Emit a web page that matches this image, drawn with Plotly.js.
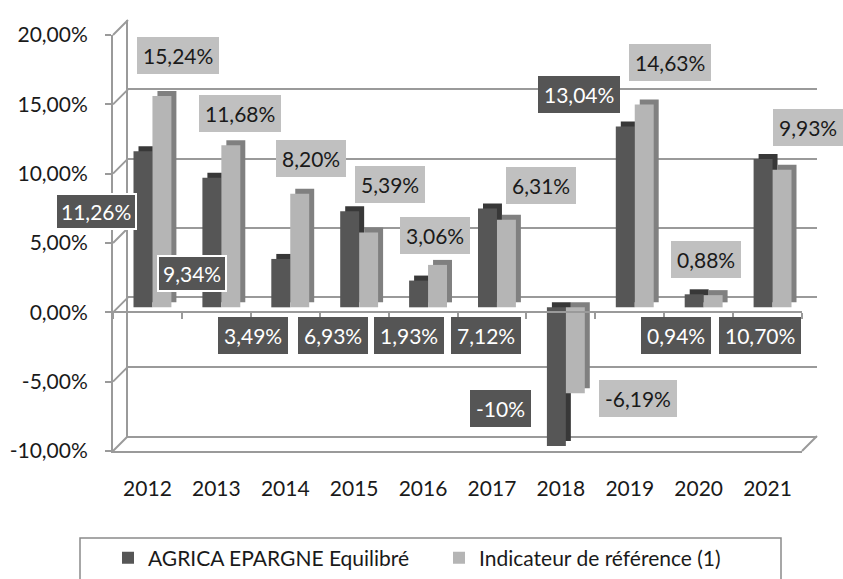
<!DOCTYPE html>
<html>
<head>
<meta charset="utf-8">
<script src="https://cdn.plot.ly/plotly-3.0.1.min.js"></script>
<style>html,body{margin:0;padding:0;background:#fff;}#chart{width:843px;height:579px;}</style>
</head>
<body>
<div id="chart"></div>
<script>
// ---- data ----
const years = ['2012','2013','2014','2015','2016','2017','2018','2019','2020','2021'];
const agrica = [11.26, 9.34, 3.49, 6.93, 1.93, 7.12, -10, 13.04, 0.94, 10.70];
const indicateur = [15.24, 11.68, 8.20, 5.39, 3.06, 6.31, -6.19, 14.63, 0.88, 9.93];
const agricaLabels = ['11,26%','9,34%','3,49%','6,93%','1,93%','7,12%','-10%','13,04%','0,94%','10,70%'];
const indicateurLabels = ['15,24%','11,68%','8,20%','5,39%','3,06%','6,31%','-6,19%','14,63%','0,88%','9,93%'];
const seriesNames = ['AGRICA EPARGNE Equilibré', 'Indicateur de référence (1)'];
const yTickVals = [-10, -5, 0, 5, 10, 15, 20];
const yTickText = ['-10,00%','-5,00%','0,00%','5,00%','10,00%','15,00%','20,00%'];

// ---- label placement (px shift from category centre, y in axis units) ----
const agricaLabelDx = [-51, -24, -32, -21, -14, -6, -60, -51, -23, -8];
const agricaLabelY  = [7.28, 2.81, -1.66, -1.66, -1.66, -1.66, -6.92, 15.72, -1.66, -1.66];
const agricaLabelBorder = ['#ffffff','#ffffff','#555555','#555555','#555555','#555555','#555555','#555555','#555555','#555555'];
const indicLabelDx = [31, 24, 26, 36, 12, 49, 77, 40, 7, 40];
const indicLabelY  = [18.53, 14.35, 11.11, 9.23, 5.55, 9.16, -6.20, 18.03, 3.82, 13.34];

// ---- geometry / style ----
const PW = 704, PH = 431, DEPTH = 15;
const YR = [-10, 20], XR = [-0.5, years.length - 0.5];
const GRID = '#9a9a9a';
const FONT = 'Lato, "Open Sans", sans-serif';
const FS = 21;
const DARK = '#565656', DARK_D = '#383838', LIGHT = '#b5b5b5', LIGHT_D = '#808080';
function xdom(o){ return [o/PW, (PW-DEPTH+o)/PW]; }
function ydom(o){ return [o/PH, (PH-DEPTH+o)/PH]; }
function yFront(v){ return ydom(0)[0] + (v-YR[0])/(YR[1]-YR[0])*(ydom(0)[1]-ydom(0)[0]); }
function yBack(v){ return ydom(DEPTH)[0] + (v-YR[0])/(YR[1]-YR[0])*(ydom(DEPTH)[1]-ydom(DEPTH)[0]); }

const nulls = years.map(() => null);
const traces = [
  {type:'bar', x:years, y:agrica, xaxis:'x2', yaxis:'y2', marker:{color:DARK_D}, showlegend:false, hoverinfo:'skip'},
  {type:'bar', x:years, y:indicateur, xaxis:'x2', yaxis:'y2', marker:{color:LIGHT_D}, showlegend:false, hoverinfo:'skip'},
  {type:'bar', x:years, y:agrica, xaxis:'x3', yaxis:'y3', marker:{color:DARK}, name:seriesNames[0], hoverinfo:'skip'},
  {type:'bar', x:years, y:indicateur, xaxis:'x3', yaxis:'y3', marker:{color:LIGHT}, name:seriesNames[1], hoverinfo:'skip'},
  {type:'scatter', mode:'markers', x:years, y:nulls, xaxis:'x4', yaxis:'y4', showlegend:false, hoverinfo:'skip'},
  {type:'scatter', mode:'markers', x:years, y:nulls, xaxis:'x5', yaxis:'y4', showlegend:false, hoverinfo:'skip'},
  {type:'scatter', mode:'markers', x:years, y:nulls, xaxis:'x', yaxis:'y', showlegend:false, hoverinfo:'skip'}
];

const hiddenX = o => ({domain:xdom(o), range:XR, type:'category', visible:false, fixedrange:true});
const hiddenY = (o, xa) => ({domain:ydom(o), range:YR, visible:false, fixedrange:true, anchor:xa});

const shapes = [];
yTickVals.forEach(v => {
  shapes.push({type:'line', xref:'paper', yref:'paper', x0:0, y0:yFront(v), x1:DEPTH/PW, y1:yBack(v), line:{color:GRID, width:2}});
});
shapes.push({type:'line', xref:'paper', yref:'paper', x0:(PW-DEPTH)/PW, y0:yFront(YR[0]), x1:1, y1:yBack(YR[0]), line:{color:GRID, width:2}});
shapes.push({type:'rect', xref:'paper', yref:'paper', x0:(80-113)/PW, x1:(781-113)/PW, y0:(451-600)/PH, y1:(451-538)/PH, line:{color:'#8a8a8a', width:1.5}, fillcolor:'rgba(0,0,0,0)'});

const annotations = [];
years.forEach((yr, i) => {
  annotations.push({xref:'x4', yref:'y4', x:i, y:agricaLabelY[i], xshift:agricaLabelDx[i], text:agricaLabels[i], showarrow:false,
    bgcolor:'#555555', bordercolor:agricaLabelBorder[i], borderwidth:2, borderpad:4, font:{family:FONT, size:FS, color:'#ffffff'}});
  annotations.push({xref:'x4', yref:'y4', x:i, y:indicLabelY[i], xshift:indicLabelDx[i], text:indicateurLabels[i], showarrow:false,
    bgcolor:'#c0c0c0', bordercolor:'#c0c0c0', borderwidth:2, borderpad:4, font:{family:FONT, size:FS, color:'#1a1a1a'}});
});

const zeroPos = yFront(0);
const layout = {
  width:843, height:579,
  margin:{l:113, r:843-113-PW, t:20, b:579-20-PH, pad:0, autoexpand:false},
  paper_bgcolor:'#ffffff', plot_bgcolor:'rgba(0,0,0,0)',
  font:{family:FONT, size:FS, color:'#1a1a1a'},
  barmode:'group', bargap:0.45, bargroupgap:0,
  showlegend:true,
  legend:{orientation:'h', x:(108-113)/PW, xanchor:'left', y:(451-558)/PH, yanchor:'middle',
    entrywidth:286, entrywidthmode:'pixels', bgcolor:'rgba(0,0,0,0)', borderwidth:0,
    font:{family:FONT, size:FS, color:'#1a1a1a'}, traceorder:'normal'},
  xaxis:{domain:xdom(DEPTH), anchor:'y', range:XR, type:'category', showline:true, linecolor:GRID, linewidth:2,
    showticklabels:false, ticks:'', showgrid:false, zeroline:false, fixedrange:true},
  yaxis:{domain:ydom(DEPTH), anchor:'x', range:YR, tickvals:yTickVals, showgrid:true, gridcolor:GRID, gridwidth:2,
    zeroline:true, zerolinecolor:GRID, zerolinewidth:2, showline:true, linecolor:GRID, linewidth:2,
    showticklabels:false, ticks:'', fixedrange:true},
  xaxis2:hiddenX(10), yaxis2:hiddenY(10,'x2'),
  xaxis3:hiddenX(5), yaxis3:hiddenY(5,'x3'),
  xaxis4:{domain:xdom(0), anchor:'y4', range:XR, type:'category', showline:true, linecolor:GRID, linewidth:2,
    ticks:'', showgrid:false, zeroline:false, tickfont:{family:FONT, size:FS, color:'#1a1a1a'}, ticklabelstandoff:18, fixedrange:true},
  yaxis4:{domain:ydom(0), anchor:'x4', range:YR, tickvals:yTickVals, ticktext:yTickText, showgrid:false,
    zeroline:true, zerolinecolor:GRID, zerolinewidth:2, showline:true, linecolor:GRID, linewidth:2,
    ticks:'outside', ticklen:6, tickwidth:2, tickcolor:GRID, ticklabelstandoff:13,
    tickfont:{family:FONT, size:FS, color:'#1a1a1a'}, fixedrange:true},
  xaxis5:{overlaying:'x4', anchor:'free', position:zeroPos, range:XR, type:'category', ticks:'outside', tickson:'boundaries',
    ticklen:6, tickwidth:2, tickcolor:GRID, showticklabels:false, showline:false, showgrid:false, zeroline:false, fixedrange:true},
  shapes:shapes,
  annotations:annotations
};

Plotly.newPlot('chart', traces, layout, {staticPlot:true, displayModeBar:false});
</script>
</body>
</html>
